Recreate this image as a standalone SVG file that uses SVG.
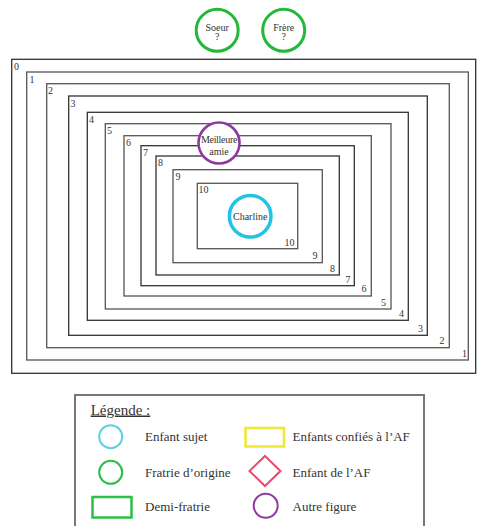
<svg xmlns="http://www.w3.org/2000/svg" width="477" height="526" viewBox="0 0 477 526">
<style>
text{font-family:"Liberation Serif","Times New Roman","DejaVu Serif",serif;fill:#333}
.r{fill:none;stroke:#333;stroke-width:1.3}
.r2{fill:none;stroke:#555;stroke-width:1.3}
.n{font-size:10px}
.ne{font-size:10px;text-anchor:end}
.c{font-size:10px;text-anchor:middle}
.l{font-size:13px}
</style>
<rect width="477" height="526" fill="#fff"/>
<g id="zones">
<rect class="r" x="11.7" y="59.3" width="464" height="314"/>
<rect class="r2" x="26.7" y="72" width="441.6" height="288"/>
<rect class="r2" x="46.7" y="83.7" width="402.6" height="264"/>
<rect class="r" x="68.7" y="96" width="358.6" height="239.3"/>
<rect class="r" x="87.3" y="112.3" width="321" height="208"/>
<rect class="r2" x="105.3" y="123.7" width="285.7" height="185.3"/>
<rect class="r2" x="124" y="135.7" width="247.3" height="160.3"/>
<rect class="r" x="141" y="145.7" width="213.3" height="140"/>
<rect class="r" x="156" y="156" width="183.3" height="119"/>
<rect class="r2" x="173" y="169.7" width="149.3" height="93"/>
<rect class="r2" x="197.3" y="183.3" width="100.4" height="65.4"/>
<text class="n" x="14" y="70">0</text>
<text class="n" x="29.5" y="83">1</text>
<text class="n" x="48" y="94">2</text>
<text class="n" x="70.5" y="106.5">3</text>
<text class="n" x="89" y="122.5">4</text>
<text class="n" x="107" y="133.5">5</text>
<text class="n" x="126" y="146">6</text>
<text class="n" x="143" y="156">7</text>
<text class="n" x="158" y="166">8</text>
<text class="n" x="175.5" y="180">9</text>
<text class="n" x="198.5" y="192.5">10</text>
<text class="ne" x="294.5" y="245.5">10</text>
<text class="ne" x="317.5" y="258.5">9</text>
<text class="ne" x="335" y="272">8</text>
<text class="ne" x="350.5" y="282.5">7</text>
<text class="ne" x="366.5" y="291.5">6</text>
<text class="ne" x="386" y="306">5</text>
<text class="ne" x="404" y="316.5">4</text>
<text class="ne" x="423" y="332">3</text>
<text class="ne" x="444.5" y="343.5">2</text>
<text class="ne" x="467" y="356.5">1</text>
</g>
<g id="soeur">
<circle cx="217.2" cy="30.3" r="21" fill="#fff" stroke="#22b83a" stroke-width="3"/>
<text class="c" x="217.2" y="30.5">Soeur</text>
<text class="c" x="217.2" y="40">?</text>
</g>
<g id="frere">
<circle cx="283.7" cy="30.3" r="21" fill="#fff" stroke="#22b83a" stroke-width="3"/>
<text class="c" x="283.7" y="30.5">Frère</text>
<text class="c" x="283.7" y="40">?</text>
</g>
<g id="meilleure-amie">
<circle cx="219" cy="143" r="20.5" fill="#fff" stroke="#8e3a9e" stroke-width="2.6"/>
<text class="c" x="219" y="143" letter-spacing="-0.3">Meilleure</text>
<text class="c" x="219" y="155">amie</text>
</g>
<g id="charline">
<circle cx="250.2" cy="216.3" r="20.8" fill="#fff" stroke="#20c4e4" stroke-width="3.5"/>
<text class="c" x="250.2" y="219.5" font-size="11">Charline</text>
</g>
<g id="connectors"></g>
<g id="legende">
<path d="M75 526 V395 H424 V526" fill="none" stroke="#777" stroke-width="2"/>
<text x="90.7" y="414.5" font-size="15" fill="#444" text-decoration="underline">Légende :</text>
<circle cx="110.7" cy="436.7" r="11.5" fill="none" stroke="#5fd0e0" stroke-width="2"/>
<text class="l" x="145" y="441">Enfant sujet</text>
<rect x="245.5" y="428" width="38.5" height="18.5" fill="none" stroke="#efe832" stroke-width="2.5"/>
<text class="l" x="292.5" y="441">Enfants confiés à l’AF</text>
<circle cx="110.7" cy="472.3" r="11.5" fill="none" stroke="#2cbf45" stroke-width="2"/>
<text class="l" x="145" y="477">Fratrie d’origine</text>
<path d="M265 456 L280.5 471 L265 486 L249.5 471 Z" fill="none" stroke="#e84a6e" stroke-width="2"/>
<text class="l" x="292.5" y="477">Enfant de l’AF</text>
<rect x="92.5" y="497" width="39" height="20.5" fill="none" stroke="#2cbf45" stroke-width="2.5"/>
<text class="l" x="145" y="511">Demi-fratrie</text>
<circle cx="265.7" cy="505.7" r="12" fill="none" stroke="#8e3a9e" stroke-width="2"/>
<text class="l" x="292.5" y="511">Autre figure</text>
</g>
</svg>
